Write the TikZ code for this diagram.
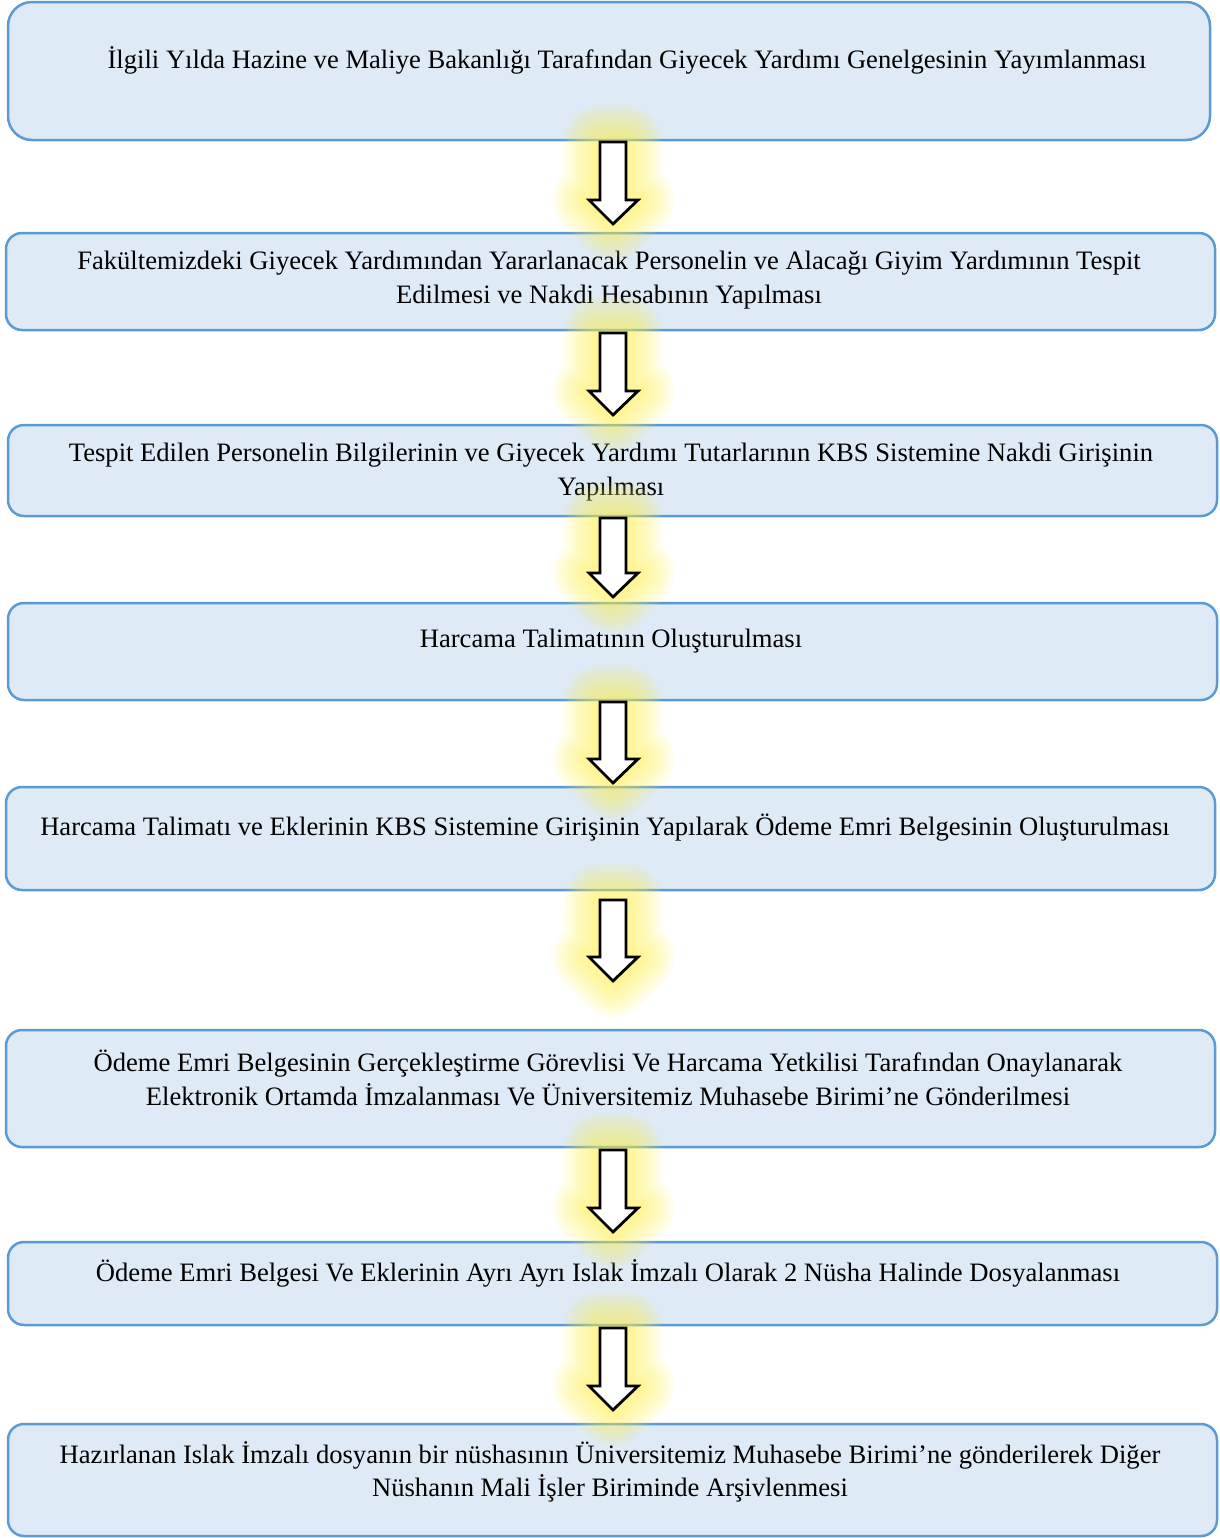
\documentclass[tikz,border=0pt]{standalone}
\usepackage{fontspec}
\setmainfont{Liberation Serif}
\definecolor{boxfill}{HTML}{DEEAF6}
\definecolor{boxline}{HTML}{5B9BD5}
\definecolor{glowc}{HTML}{FFEE44}
\tikzset{
  flowbox/.style={draw=boxline, fill=boxfill, line width=1.25pt, inner sep=0pt},
  flowtext/.style={align=center, font=\fontsize{13.3pt}{16.6pt}\selectfont, inner sep=0pt},
  blockarrow/.style={draw=black, fill=white, line width=1.4pt, line join=miter},
}
\newcommand\blockarr[3]{% #1 from node, #2 top y, #3 tip y
  \pgfmathsetmacro\hy{#3-24}
  \foreach \w in {36,32,28,24,20,16,12,8,4}{
    \draw[glowc, line width=\w pt, opacity=0.09, line join=round, fill=glowc, fill opacity=0.09]
      (600,#2) -- (626,#2) -- (626,\hy) -- (638,\hy) -- (613,#3) -- (589,\hy) -- (600,\hy) -- cycle;
  }
  \draw[blockarrow] (600,#2) -- (626,#2) -- (626,\hy) -- (638,\hy) -- (613,#3) -- (589,\hy) -- (600,\hy) -- cycle;
}
\begin{document}
\begin{tikzpicture}[x=0.5pt,y=-0.5pt]
\useasboundingbox (0,0) rectangle (1220,1538);
% boxes
\draw[flowbox, rounded corners=12pt] (8,2) rectangle (1210,140);
\node[flowtext] (t1) at (627,60) {İlgili Yılda Hazine ve Maliye Bakanlığı Tarafından Giyecek Yardımı Genelgesinin Yayımlanması};
\draw[flowbox, rounded corners=8pt] (6,233) rectangle (1215,330);
\node[flowtext] (t2) at (609,280) {Fakültemizdeki Giyecek Yardımından Yararlanacak Personelin ve Alacağı Giyim Yardımının Tespit\\Edilmesi ve Nakdi Hesabının Yapılması};
\draw[flowbox, rounded corners=8pt] (8,425) rectangle (1217,516);
\node[flowtext] (t3) at (611,472) {Tespit Edilen Personelin Bilgilerinin ve Giyecek Yardımı Tutarlarının KBS Sistemine Nakdi Girişinin\\Yapılması};
\draw[flowbox, rounded corners=8pt] (8,603) rectangle (1217,700);
\node[flowtext] (t4) at (611,641) {Harcama Talimatının Oluşturulması};
\draw[flowbox, rounded corners=8pt] (6,787) rectangle (1215,890);
\node[flowtext] (t5) at (605,828) {Harcama Talimatı ve Eklerinin KBS Sistemine Girişinin Yapılarak Ödeme Emri Belgesinin Oluşturulması};
\draw[flowbox, rounded corners=8pt] (6,1030) rectangle (1215,1147);
\node[flowtext] (t6) at (608,1078) {Ödeme Emri Belgesinin Gerçekleştirme Görevlisi Ve Harcama Yetkilisi Tarafından Onaylanarak\\Elektronik Ortamda İmzalanması Ve Üniversitemiz Muhasebe Birimi’ne Gönderilmesi};
\draw[flowbox, rounded corners=8pt] (8,1242) rectangle (1217,1325);
\node[flowtext] (t7) at (608,1273) {Ödeme Emri Belgesi Ve Eklerinin Ayrı Ayrı Islak İmzalı Olarak 2 Nüsha Halinde Dosyalanması};
\draw[flowbox, rounded corners=8pt] (8,1424) rectangle (1217,1536);
\node[flowtext] (t8) at (610,1472) {Hazırlanan Islak İmzalı dosyanın bir nüshasının Üniversitemiz Muhasebe Birimi’ne gönderilerek Diğer\\Nüshanın Mali İşler Biriminde Arşivlenmesi};
% arrows
\blockarr{t1}{142}{224}
\blockarr{t2}{333}{415}
\blockarr{t3}{518}{597}
\blockarr{t4}{702}{783}
\blockarr{t5}{900}{981}
\blockarr{t6}{1150}{1232}
\blockarr{t7}{1328}{1410}
\end{tikzpicture}
\end{document}
